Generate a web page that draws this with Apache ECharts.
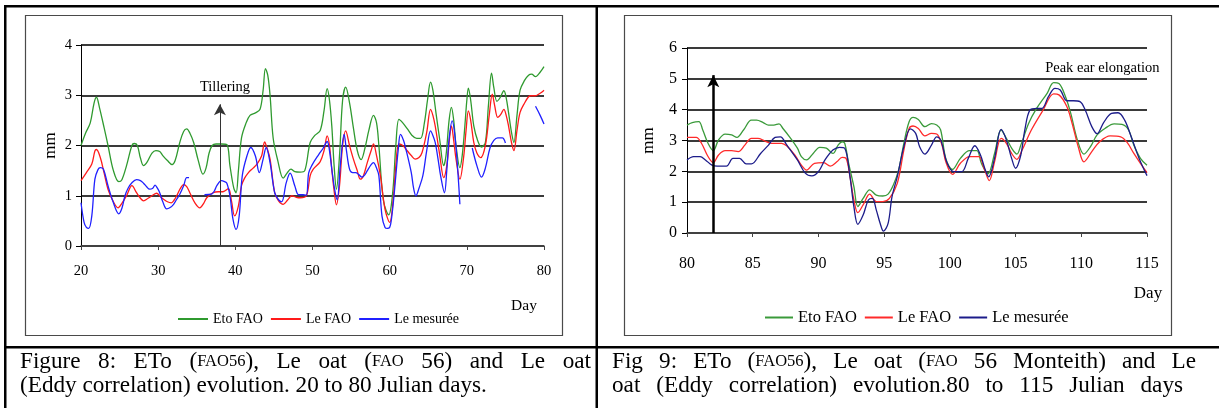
<!DOCTYPE html>
<html><head><meta charset="utf-8">
<script src="https://cdn.jsdelivr.net/npm/echarts@6/dist/echarts.min.js"></script>
<style>html,body{margin:0;padding:0;background:#fff}#c{width:1219px;height:408px}</style>
</head><body><div id="c"></div>
<script>
// ---------- Figure 8 (days 20-80) ----------
const f8XTicks = [20, 30, 40, 50, 60, 70, 80];
const f8YTicks = [0, 1, 2, 3, 4];
const f8EtoDays = [20,20.6,21.2,21.7,22.0,22.4,23.0,23.5,24.2,24.9,25.3,25.9,26.6,26.9,27.3,27.7,28.1,28.6,29.2,29.7,30.2,30.6,31.2,31.8,32.2,32.8,33.3,33.7,34.1,34.6,35.2,35.8,36.2,36.6,37.0,37.5,38.2,38.9,39.3,39.8,40.1,40.4,40.8,41.4,41.9,42.6,43.2,43.6,43.9,44.2,44.5,44.9,45.5,46.2,46.7,47.2,47.7,48.4,49.0,49.7,50.3,51.0,51.5,51.9,52.2,52.5,52.8,53.1,53.5,53.9,54.3,54.8,55.3,55.8,56.3,56.8,57.3,57.9,58.3,58.6,59.2,59.9,60.2,60.5,60.8,61.2,61.7,62.3,62.9,63.5,64.0,64.5,64.9,65.3,65.6,66.0,66.5,67.0,67.3,67.7,68.0,68.3,68.6,69.1,69.4,69.7,70.0,70.2,70.5,70.9,71.4,71.9,72.4,72.8,73.2,73.5,73.9,74.3,74.8,75.1,75.4,75.8,76.1,76.5,76.9,77.5,78.0,78.4,78.9,79.3,79.7,80];
const f8EtoVals = [2.0,2.25,2.45,2.85,2.96,2.75,2.35,2.0,1.5,1.28,1.32,1.6,2.0,2.04,2.0,1.75,1.6,1.68,1.85,1.9,1.88,1.8,1.7,1.62,1.7,2.06,2.28,2.33,2.25,2.06,1.7,1.43,1.55,1.85,2.0,2.03,2.03,2.02,1.6,1.15,1.06,1.5,2.15,2.45,2.6,2.65,2.72,3.1,3.53,3.4,3.0,2.15,1.7,1.35,1.45,1.53,1.48,1.47,1.5,2.06,2.2,2.3,2.7,3.13,2.9,2.39,1.6,1.13,1.8,2.9,3.16,2.85,2.35,1.9,1.72,1.95,2.3,2.6,2.45,2.0,0.9,0.62,0.8,1.26,2.0,2.52,2.45,2.33,2.2,2.14,2.14,2.45,2.9,3.26,3.1,2.65,2.1,1.6,1.8,2.5,2.76,2.5,2.0,1.56,1.8,2.3,2.9,3.14,2.9,2.39,2.1,1.97,2.06,2.8,3.44,3.15,2.88,2.95,3.09,2.95,2.66,2.25,2.06,2.6,3.1,3.3,3.4,3.42,3.37,3.42,3.5,3.57];
const f8LeDays = [20,20.7,21.4,21.8,22.0,22.5,23.0,23.5,24.2,24.8,25.3,25.9,26.6,27.2,27.7,28.1,28.7,29.2,29.8,30.3,30.7,31.2,31.7,32.1,32.4,32.9,33.3,33.7,34.1,34.8,35.4,35.9,36.3,37.1,37.8,38.4,39.1,39.5,39.9,40.4,40.8,41.2,41.7,42.3,42.8,43.4,43.8,44.1,44.5,45.1,45.6,46.2,46.8,47.3,47.9,48.4,49.2,49.7,50.1,51.0,51.5,51.9,52.2,52.5,52.8,53.1,53.5,53.9,54.3,54.8,55.3,55.8,56.2,56.6,57.1,57.6,57.9,58.3,58.8,59.4,60.0,60.5,60.8,61.2,61.7,62.3,62.8,63.3,63.8,64.2,64.8,65.3,65.6,65.9,66.5,67.0,67.4,67.8,68.0,68.3,68.6,69.1,69.6,69.9,70.2,70.5,70.9,71.3,71.8,72.4,72.9,73.3,73.6,74.0,74.4,74.8,75.1,75.4,75.8,76.1,76.5,76.9,77.5,78.0,78.3,78.9,79.3,79.7,80];
const f8LeVals = [1.3,1.46,1.63,1.89,1.92,1.76,1.45,1.13,0.88,0.76,0.85,1.0,1.2,1.06,0.95,0.9,0.95,1.0,1.05,0.98,0.93,0.88,0.86,0.92,1.0,1.15,1.22,1.18,1.06,0.85,0.76,0.85,0.96,1.06,1.08,1.08,1.14,0.9,0.6,0.8,1.2,1.35,1.46,1.55,1.63,1.79,2.07,1.95,1.73,1.06,0.9,0.83,0.92,1.0,0.97,0.96,1.0,1.4,1.53,1.68,1.9,2.19,2.0,1.53,1.1,0.82,1.2,2.0,2.29,2.0,1.73,1.5,1.33,1.4,1.66,1.9,2.03,1.8,1.4,0.73,0.47,1.0,1.6,2.03,2.0,1.89,1.8,1.73,1.76,1.86,2.26,2.72,2.6,2.39,1.8,1.36,1.6,2.2,2.39,2.1,1.73,1.33,1.79,2.3,2.69,2.5,2.06,1.85,1.76,2.0,2.6,3.02,2.8,2.56,2.62,2.72,2.6,2.39,2.05,1.9,2.3,2.66,2.85,2.97,2.99,2.99,3.02,3.06,3.1];
// measured series has gaps (null)
const f8MesDays = [20,20.4,20.7,21.0,21.4,21.8,22.2,22.5,22.9,23.5,24.2,24.9,25.3,25.7,26.1,26.6,27.2,27.7,28.1,28.5,28.9,29.3,29.6,29.9,30.2,30.6,31.1,31.5,32.0,32.4,32.8,33.3,33.7,34.0,35.0,36.0,36.9,37.3,37.6,38.2,38.6,38.9,39.3,39.7,40.1,40.5,40.9,41.5,42.0,42.6,43.1,43.6,44.0,44.5,45.1,45.6,46.0,46.6,47.1,47.7,48.2,48.8,49.2,49.5,49.9,50.8,51.4,51.9,52.2,52.5,52.9,53.2,53.6,54.1,54.4,54.8,55.2,55.6,56.0,56.4,56.8,57.1,57.6,57.9,58.3,58.6,59.0,59.4,59.7,60.0,60.2,60.5,60.8,61.1,61.4,61.8,62.1,62.8,63.1,63.4,63.8,64.3,64.8,65.3,65.6,65.9,66.3,66.6,67.1,67.4,67.7,68.1,68.5,68.9,69.1,69.8,70.7,71.3,71.9,72.4,73.0,73.5,74.0,74.6,75.0,77.0,78.9,79.5,80];
const f8MesVals = [0.86,0.47,0.37,0.35,0.6,1.33,1.52,1.56,1.53,1.2,0.86,0.64,0.75,1.0,1.15,1.26,1.32,1.3,1.25,1.18,1.13,1.15,1.21,1.15,1.06,0.88,0.74,0.76,0.83,0.93,1.03,1.2,1.36,1.36,null,1.02,1.03,1.1,1.2,1.3,1.28,1.25,1.0,0.53,0.33,0.6,1.4,1.79,1.96,1.79,1.46,1.73,1.96,1.66,1.06,0.92,0.88,1.26,1.45,1.2,1.02,1.02,1.01,1.45,1.6,1.82,1.95,2.08,1.9,1.53,1.1,0.92,1.6,2.22,1.9,1.53,1.46,1.46,1.42,1.37,1.42,1.5,1.62,1.66,1.55,1.4,0.6,0.37,0.35,0.37,0.5,0.9,1.4,1.9,2.22,2.1,1.93,1.46,1.15,1.0,1.15,1.4,1.9,2.29,2.2,2.06,1.7,1.4,1.06,1.5,2.13,2.49,2.13,1.33,0.83,null,1.95,1.6,1.37,1.55,1.95,2.1,2.15,2.15,2.05,null,2.78,2.6,2.43];

// ---------- Figure 9 (days 80-115) ----------
const f9XTicks = [80, 85, 90, 95, 100, 105, 110, 115];
const f9YTicks = [0, 1, 2, 3, 4, 5, 6];
const f9EtoDays = [80,80.4,80.9,81.2,81.6,82.0,82.4,82.9,83.4,83.8,84.3,84.9,85.3,85.8,86.2,86.6,87.0,87.3,87.8,88.4,88.7,89.1,89.6,90.1,90.6,91.1,91.5,91.8,92.0,92.3,92.7,93.0,93.4,93.9,94.4,94.9,95.3,95.7,96.1,96.5,96.9,97.2,97.6,98.1,98.6,99.0,99.3,99.7,100.2,100.8,101.5,102.05,102.4,102.9,103.4,103.9,104.3,104.7,105.1,105.4,106.0,106.6,107.4,107.9,108.3,108.8,109.2,109.7,110.2,110.7,111.2,111.8,112.5,113.1,113.6,114.0,114.5,115];
const f9EtoVals = [3.5,3.58,3.61,3.34,2.91,2.67,3.02,3.21,3.18,3.1,3.34,3.66,3.66,3.58,3.5,3.5,3.54,3.39,3.12,2.75,2.48,2.37,2.58,2.78,2.75,2.58,2.85,2.96,2.91,2.26,1.5,0.86,1.12,1.4,1.23,1.2,1.26,1.56,2.04,2.91,3.61,3.75,3.68,3.45,3.55,3.5,3.34,2.4,2.06,2.42,2.67,2.67,2.26,1.92,2.58,3.34,3.07,2.75,2.56,2.85,3.56,4.04,4.53,4.88,4.85,4.42,3.88,3.02,2.56,2.8,3.18,3.39,3.54,3.52,3.34,2.85,2.42,2.2];
const f9LeDays = [80,80.7,81.1,81.6,82.0,82.4,82.9,83.4,83.9,84.4,84.9,85.4,85.9,86.4,87.2,87.6,88.2,88.7,89.1,89.7,90.4,90.9,91.4,91.8,92.1,92.4,92.7,93.0,93.4,93.9,94.4,94.9,95.4,96.0,96.5,96.9,97.2,97.6,98.1,98.6,99.0,99.4,99.7,100.2,100.8,101.5,102.2,102.6,103.0,103.4,103.9,104.3,104.7,105.1,105.5,106.2,107.1,107.9,108.3,108.9,109.3,109.8,110.2,110.8,111.4,112.2,113.0,113.5,114.0,114.5,115];
const f9LeVals = [3.1,3.1,2.91,2.48,2.28,2.53,2.67,2.67,2.64,2.85,3.07,3.07,2.99,2.91,2.91,2.82,2.53,2.2,2.04,2.26,2.28,2.17,2.31,2.45,2.42,1.83,1.07,0.66,0.91,1.26,1.02,1.02,1.12,1.61,2.69,3.39,3.47,3.39,3.15,3.23,3.21,2.85,2.3,1.9,2.26,2.48,2.48,2.1,1.7,2.31,3.07,2.91,2.58,2.39,2.69,3.34,3.99,4.51,4.48,4.1,3.56,2.75,2.31,2.64,2.96,3.15,3.12,2.93,2.58,2.26,1.96];
const f9MesDays = [80,80.5,81.0,81.4,81.9,82.3,83.0,83.5,84.0,84.5,84.9,85.6,86.2,86.7,87.1,87.6,88.4,89.0,89.5,90.0,90.5,91.1,91.6,92.0,92.4,92.7,93.0,93.4,93.8,94.1,94.4,94.7,94.95,95.3,95.6,96.0,96.5,97.0,97.4,97.7,98.1,98.6,99.0,99.3,99.8,100.3,100.9,101.4,101.9,102.3,102.7,102.95,103.4,103.9,104.3,104.7,105.0,105.4,105.7,106.1,106.6,107.0,107.5,108.0,108.4,108.9,109.4,109.9,110.3,110.8,111.2,111.7,112.3,112.8,113.3,113.8,114.4,115];
const f9MesVals = [2.37,2.48,2.48,2.37,2.2,2.17,2.17,2.42,2.42,2.24,2.24,2.58,2.85,3.1,3.12,2.85,2.37,1.94,1.85,1.99,2.37,2.69,2.78,2.75,1.83,0.85,0.28,0.58,1.07,1.12,0.75,0.31,0.06,0.31,1.18,1.83,2.8,3.38,3.23,2.8,2.56,2.85,3.12,3.02,2.26,1.99,1.99,2.42,2.83,2.56,2.04,1.82,2.42,3.36,3.02,2.42,2.1,2.53,3.34,3.99,4.04,4.04,4.42,4.69,4.64,4.29,4.29,4.26,3.99,3.45,3.22,3.58,3.88,3.9,3.66,3.12,2.42,1.86];

const seriesNames = { f8eto: 'Eto FAO', f8le: 'Le FAO', f8mes: 'Le mesurée', f9eto: 'Eto FAO', f9le: 'Le FAO', f9mes: 'Le mesurée' };

// caption words: each word is a list of [text, style] pieces ('n' normal, 's' small caps)
const cap8Line1 = [[['Figure','n']],[['8:','n']],[['ETo','n']],[['(','n'],['FAO56','s'],['),','n']],[['Le','n']],[['oat','n']],[['(','n'],['FAO','s']],[['56)','n']],[['and','n']],[['Le','n']],[['oat','n']]];
const cap8Line2 = '(Eddy correlation) evolution. 20 to 80 Julian days.';
const cap9Line1 = [[['Fig','n']],[['9:','n']],[['ETo','n']],[['(','n'],['FAO56','s'],['),','n']],[['Le','n']],[['oat','n']],[['(','n'],['FAO','s']],[['56','n']],[['Monteith)','n']],[['and','n']],[['Le','n']]];
const cap9Line2 = 'oat (Eddy correlation) evolution.80 to 115 Julian days';

const SERIF = '"Liberation Serif", "Times New Roman", serif';
const CAP_N = 23.2, CAP_S = 16.5;
function pairs(xs, ys) { return xs.map((x, i) => [x, ys[i]]); }

const mctx = document.createElement('canvas').getContext('2d');
function measure(t, size) { mctx.font = size + 'px ' + SERIF; return mctx.measureText(t).width; }
function wordWidth(w) { return w.reduce((a, p) => a + measure(p[0], p[1] === 's' ? CAP_S : CAP_N), 0); }
const capRich = { n: { fontSize: CAP_N, fontFamily: SERIF, fill: '#000' }, s: { fontSize: CAP_S, fontFamily: SERIF, fill: '#000' } };
function justified(words, x0, x1, y) {
  const widths = words.map(wordWidth);
  const total = widths.reduce((a, b) => a + b, 0);
  const gap = (x1 - x0 - total) / (words.length - 1);
  let x = x0;
  return words.map((w, i) => {
    const el = { type: 'text', x: x, y: y, style: { text: w.map(p => '{' + p[1] + '|' + p[0] + '}').join(''), rich: capRich, verticalAlign: 'middle', align: 'left' } };
    x += widths[i] + gap;
    return el;
  });
}
function splitWords(s) { return s.split(' ').map(t => [[t, 'n']]); }

const chart = echarts.init(document.getElementById('c'), null, { renderer: 'canvas' });

function xAxisCfg(gi, ticks, fs, margin) {
  return {
    type: 'value', gridIndex: gi, min: ticks[0], max: ticks[ticks.length - 1], interval: ticks[1] - ticks[0],
    axisLine: { show: true, onZero: false, lineStyle: { color: '#444', width: 1.5 } },
    axisTick: { show: true, length: 4, lineStyle: { color: '#444', width: 1 } },
    axisLabel: { margin: margin, fontSize: fs, fontFamily: SERIF, color: '#000' },
    splitLine: { show: false }
  };
}
function yAxisCfg(gi, ticks, fs, margin, nameGap) {
  return {
    type: 'value', gridIndex: gi, min: ticks[0], max: ticks[ticks.length - 1], interval: ticks[1] - ticks[0],
    name: 'mm', nameLocation: 'middle', nameGap: nameGap, nameRotate: 90,
    nameTextStyle: { fontSize: 17, fontFamily: SERIF, color: '#000' },
    axisLine: { show: true, lineStyle: { color: '#000', width: 1 } },
    axisTick: { show: true, length: 5, lineStyle: { color: '#000', width: 1 } },
    axisLabel: { margin: margin, fontSize: fs, fontFamily: SERIF, color: '#000' },
    splitLine: { show: true, lineStyle: { color: '#3a3a3a', width: 2 } }
  };
}
function line(name, gi, data, color, extra) {
  return Object.assign({
    type: 'line', name: name, xAxisIndex: gi, yAxisIndex: gi, data: data,
    symbol: 'none', smooth: 0.35, connectNulls: false,
    lineStyle: { color: color, width: 1.3 }, itemStyle: { color: color }, z: 3
  }, extra || {});
}

const boxStroke = { fill: 'none', stroke: '#4a4a4a', lineWidth: 1.2 };
const tableFill = { fill: '#000' };

const option = {
  animation: false,
  backgroundColor: '#fff',
  grid: [
    { left: 81, top: 45, width: 463, height: 201 },
    { left: 687, top: 48, width: 460, height: 185 }
  ],
  xAxis: [xAxisCfg(0, f8XTicks, 14.5, 18), xAxisCfg(1, f9XTicks, 16, 23)],
  yAxis: [yAxisCfg(0, f8YTicks, 14.5, 9, 22), yAxisCfg(1, f9YTicks, 16, 10, 30)],
  legend: [
    { left: 178, top: 312, itemWidth: 30, itemHeight: 2, itemGap: 8, padding: 0, icon: 'rect',
      data: ['f8eto', 'f8le', 'f8mes'], formatter: n => seriesNames[n],
      textStyle: { fontSize: 14, fontFamily: SERIF, color: '#000' } },
    { left: 765, top: 309, itemWidth: 28, itemHeight: 2, itemGap: 8, padding: 0, icon: 'rect',
      data: ['f9eto', 'f9le', 'f9mes'], formatter: n => seriesNames[n],
      textStyle: { fontSize: 16.5, fontFamily: SERIF, color: '#000' } }
  ],
  series: [
    line('f8eto', 0, pairs(f8EtoDays, f8EtoVals), '#2f9a2f', {
      markLine: { silent: true, symbol: ['none', 'arrow'], symbolSize: [9, 11],
        lineStyle: { color: '#333', width: 1, type: 'solid' }, label: { show: false },
        data: [[{ coord: [38, 0] }, { coord: [38, 2.82] }]] },
      markPoint: { silent: true, symbol: 'circle', symbolSize: 0,
        label: { show: true, position: 'inside', formatter: 'Tillering', fontSize: 14.5, fontFamily: SERIF, color: '#000' },
        data: [{ coord: [38.66, 3.17] }] }
    }),
    line('f8le', 0, pairs(f8LeDays, f8LeVals), '#ff1a1a'),
    line('f8mes', 0, pairs(f8MesDays, f8MesVals), '#2020ff'),
    line('f9eto', 1, pairs(f9EtoDays, f9EtoVals), '#3a9a3a', {
      markLine: { silent: true, symbol: ['none', 'arrow'], symbolSize: [9, 12],
        lineStyle: { color: '#000', width: 2.5, type: 'solid' }, label: { show: false },
        data: [[{ coord: [82, 0] }, { coord: [82, 5.12] }]] },
      markPoint: { silent: true, symbol: 'circle', symbolSize: 0,
        label: { show: true, position: 'inside', formatter: 'Peak ear elongation', fontSize: 14.5, fontFamily: SERIF, color: '#000' },
        data: [{ coord: [111.6, 5.35] }] }
    }),
    line('f9le', 1, pairs(f9LeDays, f9LeVals), '#ff2a2a'),
    line('f9mes', 1, pairs(f9MesDays, f9MesVals), '#1c1c8a')
  ],
  graphic: [
    // table rules
    { type: 'rect', shape: { x: 4, y: 5, width: 1215, height: 2.5 }, style: tableFill },
    { type: 'rect', shape: { x: 4, y: 5, width: 2.5, height: 403 }, style: tableFill },
    { type: 'rect', shape: { x: 595.5, y: 5, width: 2.5, height: 403 }, style: tableFill },
    { type: 'rect', shape: { x: 4, y: 346, width: 1215, height: 2.5 }, style: tableFill },
    // chart frames
    { type: 'rect', shape: { x: 25.5, y: 15.5, width: 537, height: 320 }, style: boxStroke },
    { type: 'rect', shape: { x: 624.5, y: 15.5, width: 547, height: 320 }, style: boxStroke },
    // "Day" labels
    { type: 'text', x: 524, y: 306, style: { text: 'Day', fontSize: 15.5, fontFamily: SERIF, fill: '#000', align: 'center', verticalAlign: 'middle' } },
    { type: 'text', x: 1148, y: 294, style: { text: 'Day', fontSize: 17, fontFamily: SERIF, fill: '#000', align: 'center', verticalAlign: 'middle' } }
  ]
    .concat(justified(cap8Line1, 20, 591, 362))
    .concat([{ type: 'text', x: 20, y: 386, style: { text: cap8Line2, fontSize: CAP_N, fontFamily: SERIF, fill: '#000', verticalAlign: 'middle' } }])
    .concat(justified(cap9Line1, 612, 1196, 362))
    .concat(justified(splitWords(cap9Line2), 612, 1183, 386))
};
chart.setOption(option);
</script>
</body></html>
